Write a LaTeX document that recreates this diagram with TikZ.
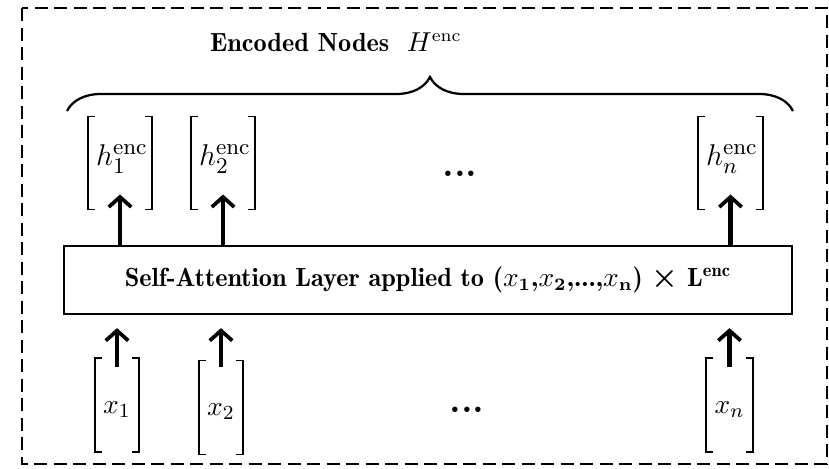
\documentclass[tikz,border=0pt]{standalone}
\usepackage{amsmath}
\usetikzlibrary{arrows.meta,decorations.pathreplacing,calc}
\begin{document}
\begin{tikzpicture}[x=0.4pt,y=-0.4pt,
  vec/.style={inner sep=0pt,outer sep=0pt,minimum width=25.6pt,minimum height=37.2pt},
  xvec/.style={inner sep=0pt,outer sep=0pt,minimum width=17.6pt,minimum height=37.6pt},
  hlab/.style={inner sep=0pt,font=\fontsize{13}{15}\selectfont},
  xlab/.style={inner sep=0pt,font=\fontsize{11}{13}\selectfont},
  dotsl/.style={inner sep=0pt,font=\fontsize{15}{15}\selectfont\bfseries},
  brk/.style={line width=0.5pt},
  arr/.style={line width=1.7pt,-{Straight Barb[length=4pt,width=9pt,line width=1.5pt]}},
  layerbox/.style={draw,line width=0.9pt,minimum width=291.2pt,minimum height=27.2pt,inner sep=0pt,font=\fontsize{10.5}{12}\fontseries{b}\selectfont},
  frame/.style={draw,line width=0.9pt,dash pattern=on 5.2pt off 2.6pt}
]
\useasboundingbox (0,0) rectangle (829,468);
\draw[frame] (22,8) rectangle (827,464);

\node[font=\fontsize{10.5}{13}\fontseries{b}\selectfont,inner sep=0pt] (title) at (336,42) {Encoded Nodes\ \ $H^{\mathrm{enc}}$};
\coordinate (bl) at (67,111);
\coordinate (br) at (793,111);
\draw[line width=0.9pt,decorate,decoration={brace,amplitude=13.6pt}] (bl) -- (br);

\node[vec] (h1) at (120,163) {};
\node[vec] (h2) at (223,163) {};
\node[vec,minimum width=26pt] (hn) at (730.5,163) {};
\node[hlab] (h1l) at (122,159) {$h_1^{\mathrm{enc}}$};
\node[hlab] (h2l) at (225,159) {$h_2^{\mathrm{enc}}$};
\node[hlab] (hnl) at (732,159) {$h_n^{\mathrm{enc}}$};
\node[dotsl] (hdots) at (460,174) {...};

\node[layerbox] (layer) at (428,280) {Self-Attention Layer applied to ($x_{\mathbf{1}}$,$x_{\mathbf{2}}$,...,$x_{\mathbf{n}}$) {\fontsize{13}{13}\selectfont$\boldsymbol{\times}$} L\textsuperscript{enc}};

\node[xvec] (x1) at (117,405) {};
\node[xvec] (x2) at (221,407.5) {};
\node[xvec,minimum width=18.8pt] (xn) at (729.5,405) {};
\node[xlab] (x1l) at (117,410) {$x_1$};
\node[xlab] (x2l) at (221,412) {$x_2$};
\node[xlab] (xnl) at (729.5,410) {$x_n$};
\node[dotsl] (xdots) at (467,410) {...};

\foreach \n in {h1,h2,hn,x1,x2,xn}{
  \draw[brk] ([xshift=2.8pt]\n.north west) -- (\n.north west) -- (\n.south west) -- ([xshift=2.8pt]\n.south west);
  \draw[brk] ([xshift=-2.8pt]\n.north east) -- (\n.north east) -- (\n.south east) -- ([xshift=-2.8pt]\n.south east);
}

\draw[arr] (layer.north -| h1) -- ([yshift=6pt]h1.south);
\draw[arr] (layer.north -| h2) -- ([yshift=6pt]h2.south);
\draw[arr] (layer.north -| hn) -- ([yshift=6pt]hn.south);
\draw[arr] ([yshift=-3.6pt]x1.north) -- ([yshift=-5.2pt]layer.south -| x1);
\draw[arr] ([yshift=-2.6pt]x2.north) -- ([yshift=-5.2pt]layer.south -| x2);
\draw[arr] ([yshift=-3.6pt]xn.north) -- ([yshift=-5.2pt]layer.south -| xn);
\end{tikzpicture}
\end{document}
